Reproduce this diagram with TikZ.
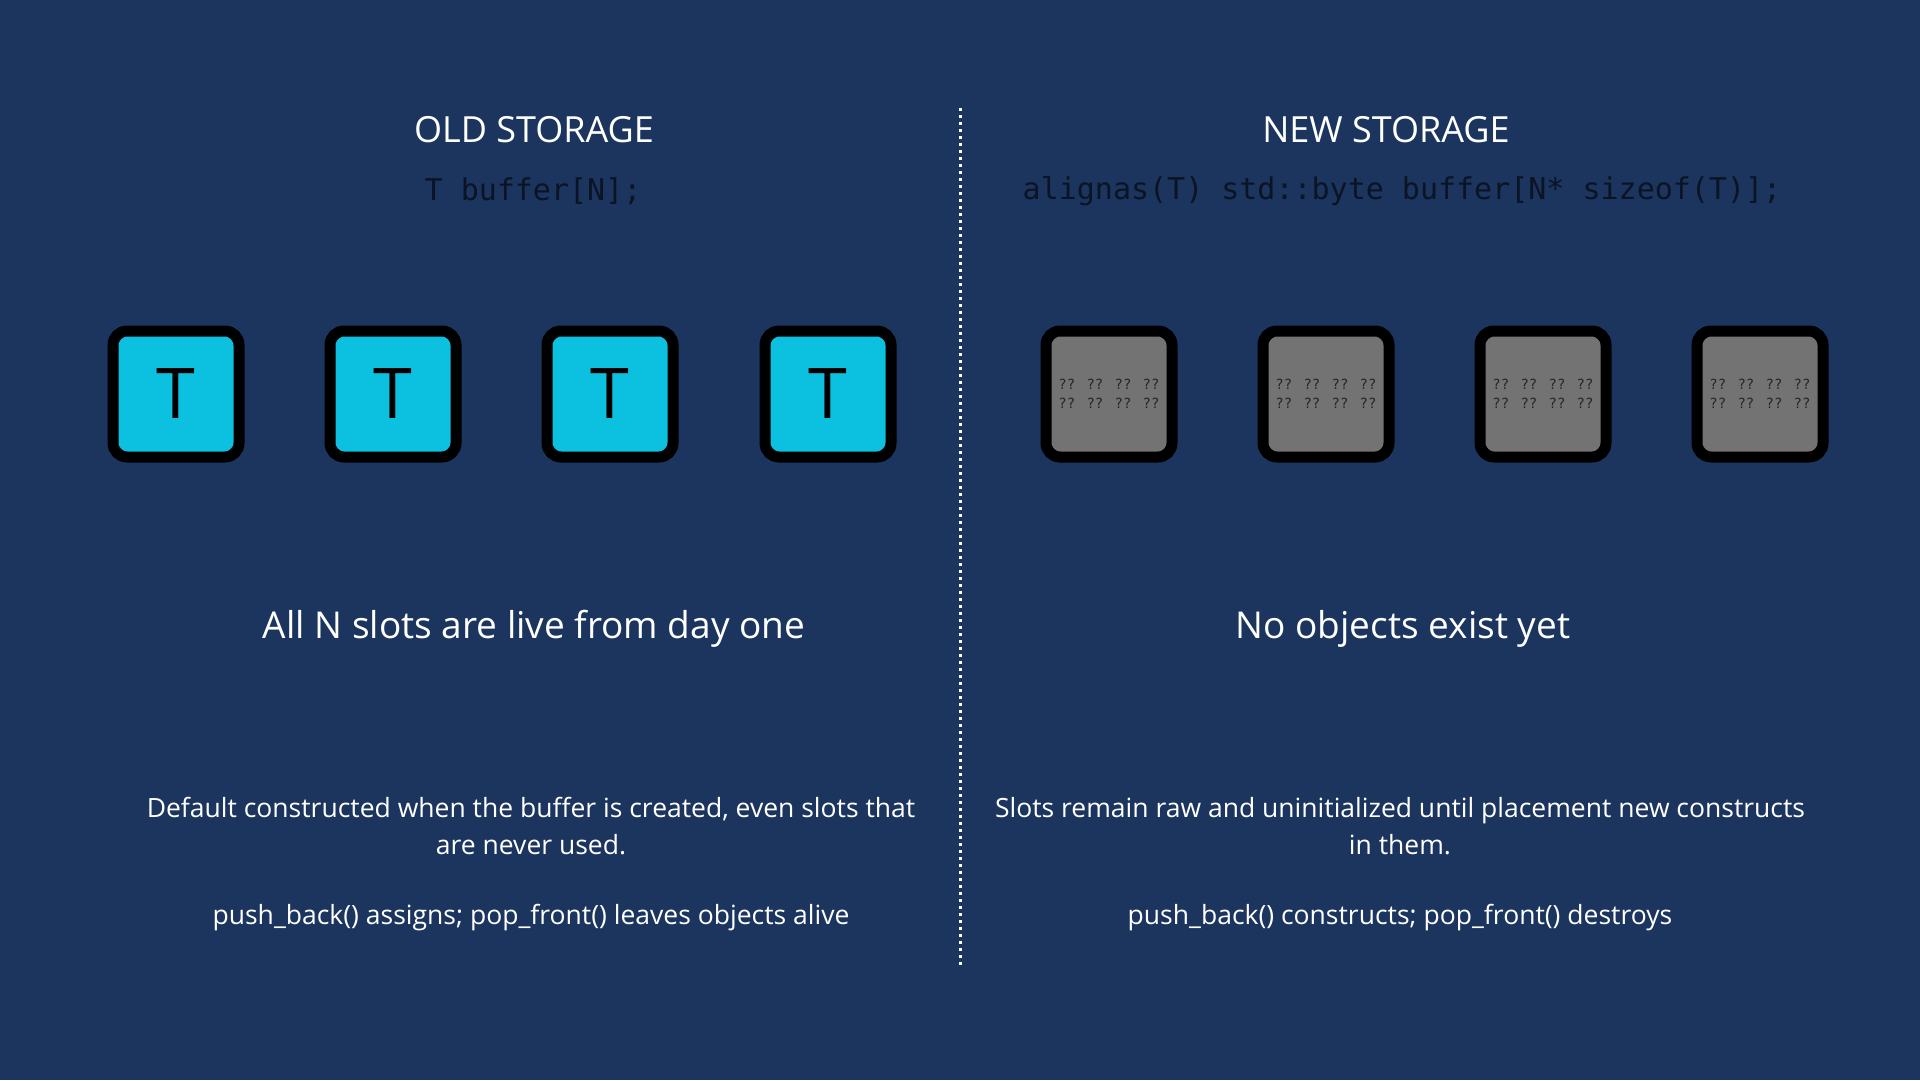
\documentclass[tikz,border=0pt]{standalone}
\usepackage{fontspec}
\setmainfont{Open Sans}
\newfontfamily\codefont{DejaVu Sans Mono}
\definecolor{bg}{HTML}{1C355E}
\definecolor{cy}{HTML}{0CC0DF}
\definecolor{gr}{HTML}{737373}
\definecolor{code}{HTML}{0B1424}
\begin{document}
\begin{tikzpicture}[x=1pt,y=-1pt,
  slot/.style={draw=black,line width=11pt,rounded corners=14pt,minimum size=126pt,inner sep=0pt},
  tslot/.style={slot,fill=cy,font=\fontsize{70}{70}\selectfont},
  rawslot/.style={slot,fill=gr,font=\codefont\fontsize{14}{19}\selectfont,align=center,text=black!85},
  title/.style={text=white,font=\fontsize{36}{40}\selectfont},
  codet/.style={text=code,font=\codefont\fontsize{30}{34}\selectfont},
  big/.style={text=white,font=\fontsize{37}{42}\selectfont},
  small/.style={text=white,font=\fontsize{26.5}{37}\selectfont,align=center}]
\fill[bg] (0,0) rectangle (1920,1080);
\useasboundingbox (0,0) rectangle (1920,1080);
\coordinate (dtop) at (960,108);
\coordinate (dbot) at (960,967);
\draw[white,line width=3pt,dash pattern=on 3pt off 4pt] (dtop) -- (dbot);
\node[title] (t1) at (534,130) {OLD STORAGE};
\node[title] (t2) at (1386,130) {NEW STORAGE};
\node[codet] (c1) at (533,191) {T buffer[N];};
\node[codet] (c2) at (1402,191) {alignas(T) std::byte buffer[N* sizeof(T)];};
\foreach \x/\n in {176/a,393/b,610/c,828/d}
  \node[tslot] (s\n) at (\x,394) {T};
\foreach \x/\n in {1109/a,1326/b,1543/c,1760/d}
  \node[rawslot] (r\n) at (\x,394) {?? ?? ?? ??\\?? ?? ?? ??};
\node[big] (b1) at (534,629) {All N slots are live from day one};
\node[big] (b2) at (1403,629) {No objects exist yet};
\node[small] (d1) at (531,826) {Default constructed when the buffer is created, even slots that\\are never used.};
\node[small] (d2) at (1400,826) {Slots remain raw and uninitialized until placement new constructs\\in them.};
\node[small] (p1) at (531,918) {push\_back() assigns; pop\_front() leaves objects alive};
\node[small] (p2) at (1400,918) {push\_back() constructs; pop\_front() destroys};
\end{tikzpicture}
\end{document}
